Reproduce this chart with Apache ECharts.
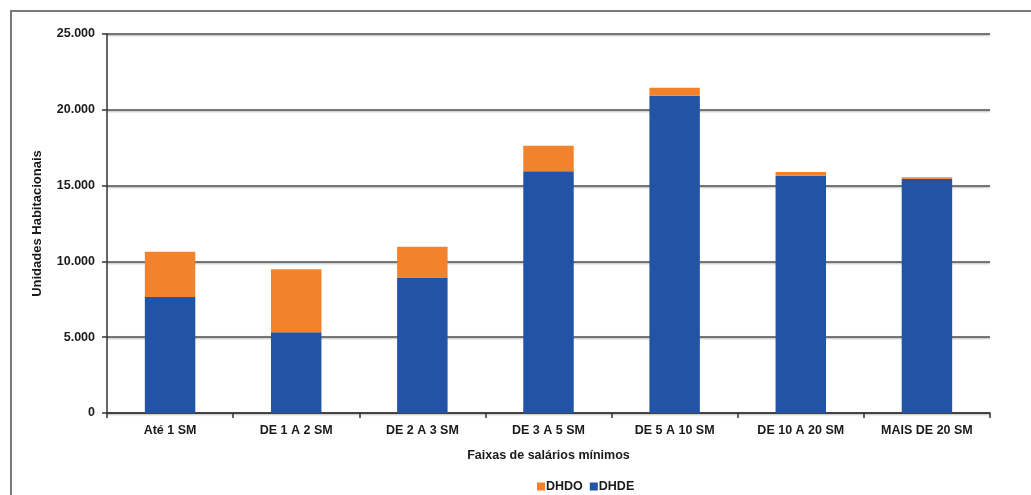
<!DOCTYPE html>
<html>
<head>
<meta charset="utf-8">
<script src="https://cdn.jsdelivr.net/npm/echarts@6/dist/echarts.min.js"></script>
<style>
  html, body { margin: 0; padding: 0; background: #fff; }
  #chart { width: 1031px; height: 495px; }
</style>
</head>
<body>
<div id="chart"></div>
<script>
// Faixas de renda (salários mínimos)
const categories = ['Até 1 SM', 'DE 1 A 2 SM', 'DE 2 A 3 SM', 'DE 3 A 5 SM', 'DE 5 A 10 SM', 'DE 10 A 20 SM', 'MAIS DE 20 SM'];
// Unidades habitacionais por componente
const dhde = [7650, 5330, 8930, 15950, 20920, 15650, 15450];
const dhdo = [2990, 4150, 2040, 1680, 540, 250, 100];
const yTicks = [0, 5000, 10000, 15000, 20000, 25000];

const FONT = 'Liberation Sans, Arial, sans-serif';
const TEXT = '#1a1a1a';

function fmtThousands(v) {
  return String(v).replace(/\B(?=(\d{3})+(?!\d))/g, '.');
}

const chart = echarts.init(document.getElementById('chart'), null, { renderer: 'canvas' });

chart.setOption({
  animation: false,
  backgroundColor: '#fff',
  textStyle: { fontFamily: FONT },
  graphic: [{
    type: 'rect',
    z: -10,
    shape: { x: 11, y: 11, width: 1100, height: 600 },
    style: { fill: 'none', stroke: '#7a7a7a', lineWidth: 2 }
  }],
  grid: { left: 107, right: 41, top: 34, bottom: 82 },
  legend: {
    left: 532,
    top: 475,
    itemWidth: 8,
    itemHeight: 8,
    itemGap: 7,
    icon: 'rect',
    data: ['DHDO', 'DHDE'],
    textStyle: { fontFamily: FONT, fontSize: 12.5, fontWeight: 'bold', color: TEXT, padding: [0, 0, 0, -4] }
  },
  xAxis: {
    type: 'category',
    data: categories,
    name: 'Faixas de salários mínimos',
    nameLocation: 'middle',
    nameGap: 36,
    nameTextStyle: { fontFamily: FONT, fontSize: 12.5, fontWeight: 'bold', color: TEXT },
    axisLine: { lineStyle: { color: '#333', width: 1.5 } },
    axisTick: { show: true, length: 5, inside: false, lineStyle: { color: '#333', width: 1.5 } },
    axisLabel: { fontFamily: FONT, fontSize: 12.5, fontWeight: 'bold', color: TEXT, margin: 11 }
  },
  yAxis: {
    type: 'value',
    min: yTicks[0],
    max: yTicks[yTicks.length - 1],
    interval: yTicks[1] - yTicks[0],
    name: 'Unidades Habitacionais',
    nameLocation: 'middle',
    nameGap: 63,
    nameRotate: 90,
    nameTextStyle: { fontFamily: FONT, fontSize: 13, fontWeight: 'bold', color: TEXT },
    axisLine: { show: true, lineStyle: { color: '#333', width: 1.5 } },
    axisTick: { show: true, length: 5, lineStyle: { color: '#333', width: 1.5 } },
    axisLabel: { fontFamily: FONT, fontSize: 12.5, fontWeight: 'bold', color: TEXT, margin: 12, formatter: fmtThousands },
    splitLine: {
      show: true,
      lineStyle: { color: '#505050', width: 1.5, shadowColor: 'rgba(0,0,0,0.35)', shadowBlur: 2, shadowOffsetY: 1 }
    }
  },
  series: [
    {
      name: 'DHDE',
      type: 'bar',
      stack: 'total',
      barWidth: '40%',
      data: dhde,
      itemStyle: { color: '#2353a5' }
    },
    {
      name: 'DHDO',
      type: 'bar',
      stack: 'total',
      barWidth: '40%',
      data: dhdo,
      itemStyle: { color: '#f3822c' }
    }
  ]
});
</script>
</body>
</html>
